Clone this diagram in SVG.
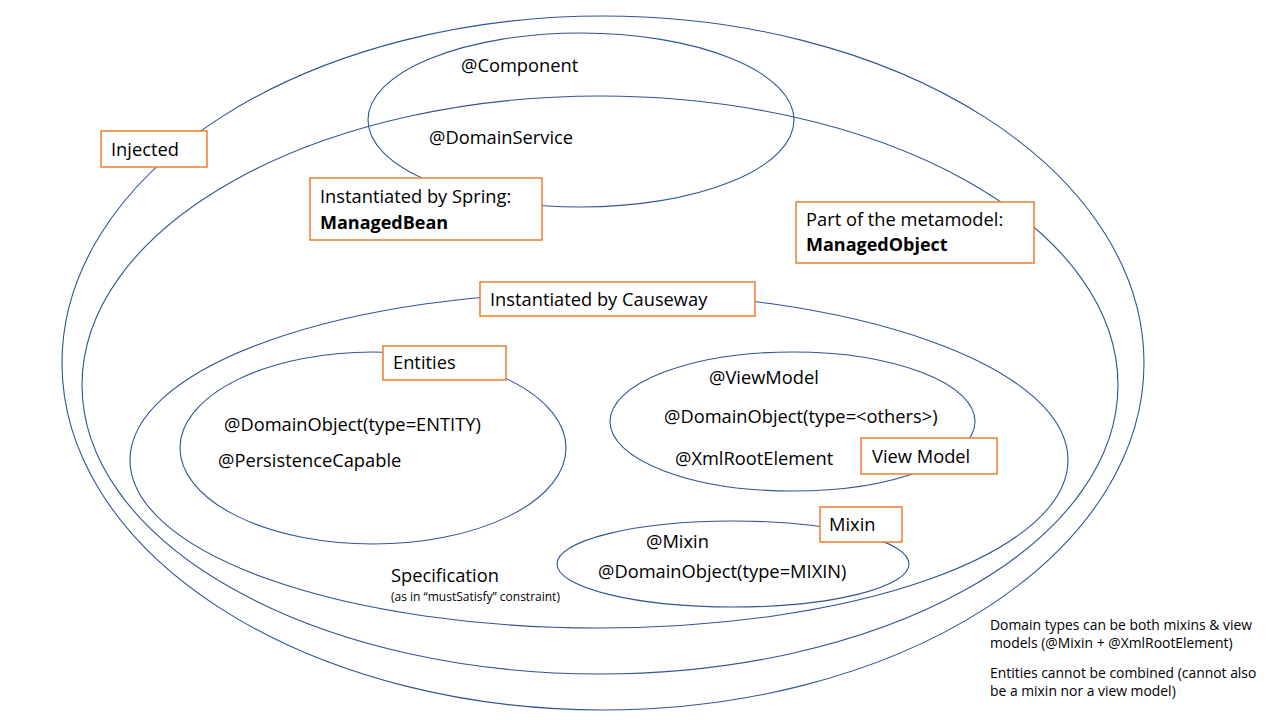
<svg xmlns="http://www.w3.org/2000/svg" width="1280" height="720" viewBox="0 0 1280 720">
<style>
.set{fill:none;stroke:#2F5597;stroke-width:1.1}
.box{fill:#fff;stroke:#ED7D31;stroke-width:1.5}
text{font-family:"Open Sans","Noto Sans","Liberation Sans",sans-serif;fill:#000}
.t{font-size:18.3px}
.b{font-size:18px;font-weight:bold}
.s{font-size:12px}
.n{font-size:13.9px}
</style>
<rect width="1280" height="720" fill="#fff"/>
<g id="sets">
<ellipse id="injected-set" class="set" cx="603" cy="363" rx="541" ry="347"/>
<ellipse id="managedobject-set" class="set" cx="600" cy="385" rx="518" ry="289"/>
<ellipse id="component-set" class="set" cx="581" cy="120" rx="213" ry="87"/>
<ellipse id="causeway-set" class="set" cx="599" cy="460" rx="469" ry="168"/>
<ellipse id="entities-set" class="set" cx="373" cy="448" rx="193" ry="96"/>
<ellipse id="viewmodel-set" class="set" cx="792.5" cy="421.5" rx="182.5" ry="69.5"/>
<ellipse id="mixin-set" class="set" cx="733" cy="564" rx="176" ry="43"/>
</g>
<g id="connectors"/>
<g id="component-texts">
<text class="t" x="461" y="72">@Component</text>
<text class="t" x="429" y="144">@DomainService</text>
</g>
<g id="entities-texts">
<text class="t" x="224" y="431">@DomainObject(type=ENTITY)</text>
<text class="t" x="218" y="467">@PersistenceCapable</text>
</g>
<g id="viewmodel-texts">
<text class="t" x="709" y="384">@ViewModel</text>
<text class="t" x="664" y="423">@DomainObject(type=&lt;others&gt;)</text>
<text class="t" x="675" y="465">@XmlRootElement</text>
</g>
<g id="mixin-texts">
<text class="t" x="646" y="548">@Mixin</text>
<text class="t" x="598" y="578">@DomainObject(type=MIXIN)</text>
</g>
<g id="specification">
<text class="t" x="391" y="582">Specification</text>
<text class="s" x="391" y="601">(as in “mustSatisfy”  constraint)</text>
</g>
<g id="injected">
<rect class="box" x="101" y="131" width="106" height="36"/>
<text class="t" x="111" y="156">Injected</text>
</g>
<g id="managedbean">
<rect class="box" x="310" y="178" width="232" height="62"/>
<text class="t" x="320" y="203">Instantiated by Spring:</text>
<text class="b" x="320" y="229">ManagedBean</text>
</g>
<g id="managedobject">
<rect class="box" x="796" y="202" width="238" height="61"/>
<text class="t" x="806" y="226">Part of the metamodel:</text>
<text class="b" x="806" y="251">ManagedObject</text>
</g>
<g id="causeway">
<rect class="box" x="480" y="282" width="275" height="34"/>
<text class="t" x="490" y="306">Instantiated by Causeway</text>
</g>
<g id="entities">
<rect class="box" x="383" y="346" width="123" height="34"/>
<text class="t" x="393" y="369">Entities</text>
</g>
<g id="viewmodel">
<rect class="box" x="861" y="438" width="136" height="36"/>
<text class="t" x="872" y="463">View Model</text>
</g>
<g id="mixin">
<rect class="box" x="820" y="507" width="82" height="35"/>
<text class="t" x="829" y="531">Mixin</text>
</g>
<g id="notes">
<text class="n" x="990" y="630">Domain types can be both mixins &amp; view</text>
<text class="n" x="990" y="648">models (@Mixin + @XmlRootElement)</text>
<text class="n" x="990" y="678">Entities cannot be combined (cannot also</text>
<text class="n" x="990" y="696">be a mixin nor a view model)</text>
</g>
</svg>
